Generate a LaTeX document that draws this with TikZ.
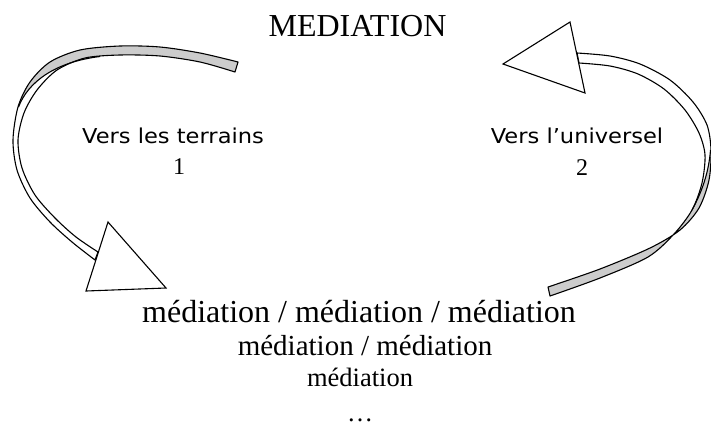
\documentclass[tikz,border=0pt]{standalone}
\usepackage{fontspec}
\setmainfont{Liberation Serif}
\newfontfamily\comicfont[FakeStretch=1.1]{DejaVu Sans}
\definecolor{bandgrey}{RGB}{204,204,204}
\def\leftband{plot[smooth] coordinates {(238,62) (200,53) (160,47) (120,46) (80,50) (50,62) (30,82) (18,107) (13,140) (17,170) (30,198) (50,222) (72,242) (95,260)}
  -- plot[smooth] coordinates {(98,252) (76,237) (55,218) (35,195) (22,168) (18,140) (24,113) (37,90) (57,70) (85,58) (120,55) (160,56) (200,62) (235,72)}
  -- cycle}
\def\rightband{plot[smooth] coordinates {(577,53) (610,56) (640,64) (670,80) (693,102) (707,125) (711,150) (709,180) (699,208) (680,230) (650,248) (600,269) (548,287)}
  -- plot[smooth] coordinates {(550,296) (600,278) (648,257) (674,234) (692,210) (702,183) (705,155) (699,133) (685,110) (664,89) (638,74) (610,66) (579,63)}
  -- cycle}
\begin{document}
\begin{tikzpicture}[x=1pt,y=-1pt,
  outline/.style={draw=black,line width=1.1pt,line join=round},
  arrowhead/.style={fill=white,draw=black,line width=1.1pt,line join=miter},
  lbl/.style={anchor=base,inner sep=0pt},
]
\useasboundingbox (0,0) rectangle (711,426);

% ---------- left curved arrow (towards the fields) ----------
\fill[white] \leftband;
\begin{scope}
  \clip (0,107) -- (19,107) .. controls (28,82) and (55,62) .. (100,56.5) -- (100,100) -- (260,100) -- (260,0) -- (0,0) -- cycle;
  \fill[bandgrey] \leftband;
\end{scope}
\draw[outline] (18.5,107) .. controls (28,82) and (55,62) .. (100,56.5);
\draw[outline] \leftband;
\draw[arrowhead] (108,222) -- (166,288) -- (86,291) -- cycle;

% ---------- right curved arrow (towards the universal) ----------
\fill[white] \rightband;
\begin{scope}
  \clip (720,150) -- (710.5,150) .. controls (709,170) and (703,190) .. (692,210) -- (660,215) -- (500,300) -- (720,300) -- cycle;
  \fill[bandgrey] \rightband;
\end{scope}
\draw[outline] (710.5,150) .. controls (709,170) and (703,190) .. (692,210);
\draw[outline] \rightband;
\draw[arrowhead] (503,64) -- (570,22) -- (585,93) -- cycle;

% ---------- texts ----------
\node[lbl,font=\fontsize{32}{38}\selectfont] (title) at (357.5,36) {MEDIATION};
\node[lbl,font=\comicfont\fontsize{20.5}{24}\selectfont] (vt) at (173,143) {Vers les terrains};
\node[lbl,font=\fontsize{24}{28}\selectfont] (n1) at (179,174) {1};
\node[lbl,font=\comicfont\fontsize{20.5}{24}\selectfont] (vu) at (577,143) {Vers l’universel};
\node[lbl,font=\fontsize{24}{28}\selectfont] (n2) at (582,175) {2};
\node[lbl,font=\fontsize{32}{38}\selectfont] (m1) at (359,322) {médiation / médiation / médiation};
\node[lbl,font=\fontsize{29}{34}\selectfont] (m2) at (365,355) {médiation / médiation};
\node[lbl,font=\fontsize{26.5}{31}\selectfont] (m3) at (360,386) {médiation};
\node[lbl,font=\fontsize{26}{31}\selectfont] (dots) at (360,421) {\dots};
\end{tikzpicture}
\end{document}
